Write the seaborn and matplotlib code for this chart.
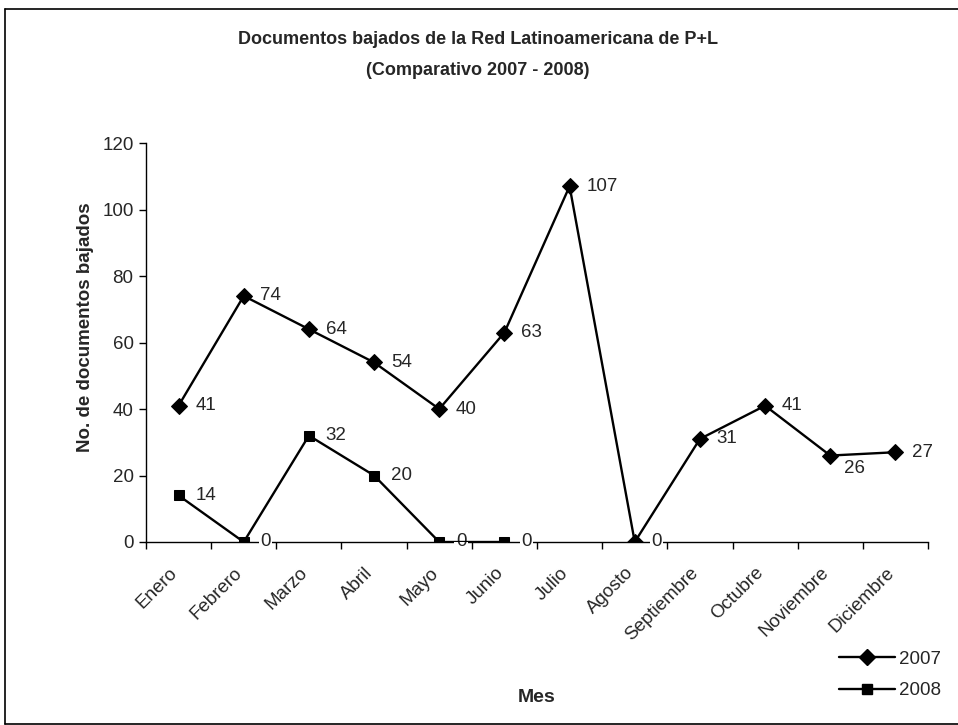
import matplotlib
matplotlib.use("Agg")
import matplotlib.pyplot as plt
import matplotlib.transforms as mtransforms
from matplotlib.lines import Line2D
import seaborn as sns
import pandas as pd

meses = ["Enero", "Febrero", "Marzo", "Abril", "Mayo", "Junio", "Julio",
         "Agosto", "Septiembre", "Octubre", "Noviembre", "Diciembre"]
valores_2007 = [41, 74, 64, 54, 40, 63, 107, 0, 31, 41, 26, 27]
valores_2008 = [14, 0, 32, 20, 0, 0]
series = ["2007", "2008"]
y_ticks = [0, 20, 40, 60, 80, 100, 120]

titulo = "Documentos bajados de la Red Latinoamericana de P+L\n(Comparativo 2007 - 2008)"
eje_x = "Mes"
eje_y = "No. de documentos bajados"

sns.set_style("white")
plt.rcParams["font.family"] = ["Liberation Sans", "DejaVu Sans"]

df = pd.concat([
    pd.DataFrame({"pos": range(len(valores_2007)), "valor": valores_2007, "serie": series[0]}),
    pd.DataFrame({"pos": range(len(valores_2008)), "valor": valores_2008, "serie": series[1]}),
], ignore_index=True)

fig = plt.figure(figsize=(9.58, 7.25), dpi=100)
ax = fig.add_axes([146 / 958, 1 - 542 / 725, 782 / 958, 399 / 725])

marcadores = {"2007": "D", "2008": "s"}
tamanos = {"2007": 8.0, "2008": 7.5}
fs = 13.5
for s in series:
    sub = df[df["serie"] == s]
    sns.lineplot(data=sub, x="pos", y="valor", ax=ax, color="black",
                 linewidth=1.7, marker=marcadores[s], markersize=tamanos[s],
                 markeredgecolor="black", markerfacecolor="black",
                 sort=False, legend=False, zorder=3)

# value labels to the right of each point
desplaz = {("2007", 10): (10, -9)}
for s, vals in zip(series, [valores_2007, valores_2008]):
    for i, v in enumerate(vals):
        dx, dy = desplaz.get((s, i), (12, 0))
        ax.annotate(str(v), (i, v), xytext=(dx, dy), textcoords="offset points",
                    ha="left", va="center", fontsize=fs, zorder=2.8,
                    bbox=dict(boxstyle="square,pad=0.08", fc="white", ec="none"))

ax.set_xlim(-0.5, len(meses) - 0.5)
ax.set_ylim(0, 120)
ax.set_yticks(y_ticks)
ax.set_yticklabels([str(t) for t in y_ticks], fontsize=fs)
ax.set_xticks(range(len(meses)))
ax.set_xticklabels(meses, rotation=45, ha="right", rotation_mode="anchor", fontsize=fs)
ax.set_xticks([i - 0.5 for i in range(len(meses) + 1)], minor=True)
ax.tick_params(axis="x", which="major", length=0, pad=11)
ax.tick_params(axis="x", which="minor", length=5, width=1, color="black", direction="out", bottom=True)
ax.tick_params(axis="y", length=5, width=1, color="black", direction="out", left=True, pad=4)

# nudge the slanted month names slightly left and down
corrimiento = mtransforms.ScaledTranslation(-7 / 72, -5 / 72, fig.dpi_scale_trans)
for lbl in ax.get_xticklabels():
    lbl.set_transform(lbl.get_transform() + corrimiento)

for side in ["top", "right"]:
    ax.spines[side].set_visible(False)
for side in ["left", "bottom"]:
    ax.spines[side].set_color("black")
    ax.spines[side].set_linewidth(1.0)
    ax.spines[side].set_zorder(2.5)

ax.set_xlabel(eje_x, fontsize=14, fontweight="bold")
ax.xaxis.set_label_coords((537 - 146) / 782, (542 - 698) / 399)
ax.xaxis.label.set_verticalalignment("center")
ax.set_ylabel(eje_y, fontsize=13.5, fontweight="bold")
ax.yaxis.set_label_coords((85 - 146) / 782, (542 - 327) / 399)
ax.yaxis.label.set_verticalalignment("center")

fig.text(478 / 958, 1 - 55 / 725, titulo, ha="center", va="center",
         fontsize=13, fontweight="bold", linespacing=2.1)

handles = [Line2D([], [], color="black", linewidth=1.7, marker=marcadores[s],
                  markersize=tamanos[s], markerfacecolor="black") for s in series]
fig.legend(handles, series, loc="center", bbox_to_anchor=(890 / 958, 1 - 675 / 725),
           frameon=False, fontsize=fs, handlelength=3.0, handletextpad=0.2,
           labelspacing=0.75)

# frame around the chart
borde = dict(color="black", linewidth=1.2, transform=fig.transFigure)
fig.add_artist(Line2D([5 / 958, 5 / 958], [1 - 9 / 725, 1 / 725], **borde))
fig.add_artist(Line2D([5 / 958, 1.0], [1 - 9 / 725, 1 - 9 / 725], **borde))
fig.add_artist(Line2D([5 / 958, 1.0], [1 / 725, 1 / 725], **borde))

fig.savefig("out.png", dpi=100, facecolor="white")
